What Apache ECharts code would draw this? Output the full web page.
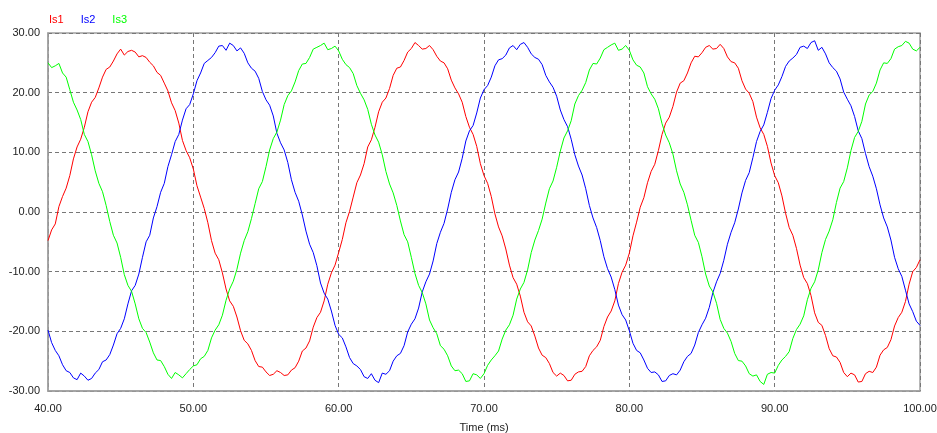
<!DOCTYPE html>
<html>
<head>
<meta charset="utf-8">
<script src="https://cdn.jsdelivr.net/npm/echarts@6/dist/echarts.min.js"></script>
<style>
html,body{margin:0;padding:0;background:#fff;}
#chart{width:937px;height:433px;}
</style>
</head>
<body>
<div id="chart"></div>
<script>
// sample times: 40.0 ms to 100.0 ms every 0.25 ms
const tStart = 40, tStep = 0.25;
const seriesNames = ['Is1', 'Is2', 'Is3'];
const xTicks = [40, 50, 60, 70, 80, 90, 100];
const yTicks = [-30, -20, -10, 0, 10, 20, 30];

const is1 = [
 -4.8,-3.0,-2.0,0.9,2.6,4.0,6.1,8.9,10.9,12.2,14.2,16.8,18.4,19.2,20.8,22.6,23.9,24.3,25.3,26.5,
 27.3,26.3,26.9,27.1,26.8,26.0,26.2,25.9,25.1,24.5,23.4,22.9,21.6,20.3,18.3,17.0,14.9,12.0,10.3,9.1,
 7.2,4.4,2.5,0.6,-1.8,-4.8,-6.9,-8.0,-10.2,-12.9,-14.9,-15.8,-17.6,-19.9,-21.5,-22.1,-23.2,-24.9,-25.9,-26.0,
 -26.8,-27.4,-27.2,-26.6,-26.9,-27.4,-27.3,-26.5,-26.1,-25.0,-23.3,-22.8,-21.6,-19.3,-17.7,-16.8,-14.9,-12.1,-10.2,-8.9,
 -6.8,-4.6,-1.8,0.1,2.5,4.9,6.2,8.1,10.9,12.1,14.2,16.8,18.4,19.1,20.7,22.9,24.1,24.3,25.4,26.8,
 27.4,28.4,27.9,27.3,27.4,27.9,27.2,26.1,25.3,25.0,24.0,22.1,20.8,19.8,18.4,16.0,14.2,13.0,11.0,8.1,
 6.1,4.8,2.6,-0.3,-2.5,-4.0,-6.2,-8.9,-11.0,-12.1,-14.1,-16.8,-18.4,-19.1,-20.8,-22.8,-24.0,-24.4,-25.4,-26.9,
 -27.5,-27.0,-27.4,-28.3,-28.2,-27.2,-26.8,-26.7,-25.9,-24.1,-23.2,-22.6,-21.5,-19.2,-17.6,-16.6,-14.9,-12.0,-10.1,-8.9,
 -6.9,-4.0,-1.7,0.8,2.4,4.9,6.8,8.0,10.3,13.0,14.9,15.9,17.7,20.1,21.6,22.0,23.3,25.0,26.1,26.0,
 26.7,27.6,27.9,27.3,27.4,28.1,27.4,26.0,25.2,25.0,24.1,22.0,20.6,19.9,18.5,15.9,14.1,13.0,11.0,8.2,
 6.1,4.9,2.7,-0.2,-2.6,-3.9,-6.1,-8.9,-11.0,-12.0,-14.0,-16.9,-18.5,-19.0,-20.7,-22.9,-24.1,-24.3,-25.2,-26.9,
 -27.6,-27.0,-27.3,-28.5,-28.4,-27.1,-26.7,-26.9,-26.0,-24.0,-23.1,-22.7,-21.4,-19.1,-17.7,-16.8,-15.0,-12.1,-10.0,-9.3,
 -8.0
];
const is2 = [
 -19.8,-21.9,-23.2,-24.1,-25.6,-26.6,-26.9,-27.8,-28.1,-27.0,-27.5,-28.2,-27.9,-27.0,-26.4,-25.1,-24.8,-23.9,-22.3,-20.4,
 -19.5,-17.9,-15.4,-13.2,-12.3,-10.4,-7.6,-5.0,-3.9,-1.0,0.9,3.3,4.8,7.6,9.6,11.8,13.0,15.4,17.3,18.0,
 19.8,22.0,23.3,24.9,25.4,25.9,26.7,27.8,27.9,27.1,28.3,27.9,27.0,27.5,26.6,25.0,24.1,23.6,22.4,20.2,
 18.8,17.9,16.1,13.2,11.6,10.4,8.3,5.4,3.3,1.8,-0.5,-3.2,-5.4,-6.8,-9.0,-11.9,-13.6,-14.6,-16.6,-19.0,
 -20.5,-21.1,-22.6,-24.4,-25.4,-25.8,-26.4,-27.6,-27.9,-27.1,-28.2,-28.6,-27.0,-27.2,-26.6,-25.0,-24.1,-23.7,-22.4,-20.1,
 -18.8,-17.9,-16.1,-13.4,-11.7,-10.4,-8.2,-5.3,-3.4,-1.9,0.5,3.3,5.4,6.7,9.0,11.9,13.6,14.5,16.6,19.1,
 20.5,21.2,22.6,24.5,25.5,25.7,26.3,27.5,27.9,27.2,28.1,28.4,27.6,26.5,25.9,25.6,24.7,22.9,21.8,20.9,
 19.4,17.1,15.5,14.3,12.2,9.6,7.7,6.2,3.9,1.1,-1.0,-2.6,-4.8,-7.5,-9.5,-10.9,-13.0,-15.6,-17.2,-18.1,
 -19.9,-22.0,-23.2,-23.6,-24.8,-26.2,-26.9,-26.8,-27.3,-28.4,-28.3,-27.4,-27.1,-27.3,-26.5,-25.1,-24.2,-23.7,-22.3,-20.2,
 -18.9,-17.8,-16.0,-13.5,-11.7,-10.3,-8.1,-5.4,-3.4,-1.8,0.5,3.2,5.3,6.6,9.1,11.8,13.5,14.6,16.7,19.0,
 20.4,21.3,22.7,24.4,25.3,25.8,26.4,27.6,27.8,27.4,28.4,28.7,27.1,27.6,26.5,25.0,24.2,23.6,22.3,20.1,
 18.9,17.8,16.0,13.6,12.3,9.8,7.6,6.0,3.9,1.2,-1.0,-2.5,-4.7,-7.6,-9.5,-10.8,-13.1,-15.4,-16.7,-18.3,
 -19.0
];
const is3 = [
 25.0,24.2,24.5,24.9,23.3,22.6,20.5,18.4,17.1,15.5,13.0,11.8,9.6,6.9,4.8,3.4,1.1,-1.6,-3.9,-5.2,
 -7.6,-10.5,-12.3,-13.3,-15.4,-17.9,-19.5,-20.2,-21.8,-23.6,-24.8,-24.9,-25.9,-27.2,-27.9,-26.9,-27.3,-27.8,-27.1,-26.4,
 -25.8,-25.6,-24.6,-24.2,-23.2,-21.1,-19.8,-18.9,-17.3,-14.8,-12.9,-11.6,-9.6,-6.9,-4.8,-3.3,-1.1,1.4,3.9,5.1,
 7.6,10.4,12.3,13.4,15.4,18.0,19.5,20.3,21.8,23.7,24.8,24.9,25.9,27.3,27.6,27.9,28.3,27.2,27.4,27.8,
 27.0,25.6,24.7,24.2,23.2,21.2,19.9,18.8,17.2,14.7,12.9,11.7,9.6,6.8,4.7,3.2,1.1,-1.5,-3.8,-5.0,
 -7.6,-10.3,-12.3,-13.5,-15.4,-18.1,-19.4,-20.4,-22.4,-23.0,-24.1,-25.8,-26.6,-26.5,-27.1,-28.4,-28.3,-27.1,-27.3,-27.9,
 -27.1,-25.7,-24.8,-24.1,-23.3,-21.3,-19.8,-18.9,-17.3,-14.6,-12.9,-11.8,-9.7,-6.8,-4.7,-3.1,-1.2,1.5,3.9,5.2,
 7.5,10.2,12.4,13.6,15.3,18.1,19.5,20.4,21.7,23.8,24.9,24.8,25.8,27.2,27.6,28.0,28.3,27.1,27.3,27.9,
 27.1,25.5,24.6,24.3,23.3,21.0,19.8,18.9,17.3,14.8,12.9,11.6,9.7,6.9,4.7,3.3,1.2,-1.4,-3.9,-5.1,
 -7.5,-10.4,-12.4,-13.4,-15.3,-18.0,-19.5,-20.3,-21.7,-23.7,-24.9,-25.0,-25.8,-27.1,-27.5,-27.3,-28.4,-28.9,-27.2,-26.9,
 -27.0,-25.7,-24.8,-24.2,-23.4,-21.2,-19.7,-18.8,-17.4,-14.7,-12.8,-11.7,-9.7,-6.8,-4.6,-3.2,-1.3,1.6,4.0,5.1,
 7.4,10.3,12.5,13.5,15.2,18.1,19.6,20.2,21.6,23.8,25.0,24.9,25.7,27.3,27.7,27.9,28.6,28.3,27.3,27.0,
 27.6
];
const colors = ['#ff0000', '#0000ff', '#00ff00'];

function pairs(vals) {
  return vals.map((v, i) => [tStart + i * tStep, v]);
}

const chart = echarts.init(document.getElementById('chart'), null, {renderer: 'canvas'});
const font = 'Liberation Sans, Arial, sans-serif';
chart.setOption({
  animation: false,
  backgroundColor: '#ffffff',
  legend: {
    left: 39, top: 9,
    icon: 'rect', itemWidth: 0, itemHeight: 0, itemGap: 12,
    selectedMode: false,
    data: seriesNames.map((n, i) => ({name: n, textStyle: {color: colors[i]}})),
    textStyle: {fontFamily: font, fontSize: 11, padding: 0}
  },
  grid: {
    left: 48, right: 17, top: 33, bottom: 42,
    containLabel: false, outerBoundsMode: 'none',
    show: true, borderColor: '#a0a0a0', borderWidth: 1.5, backgroundColor: '#fff'
  },
  xAxis: {
    type: 'value', min: xTicks[0], max: xTicks[xTicks.length - 1], interval: 10,
    name: 'Time (ms)', nameLocation: 'middle', nameGap: 31,
    nameTextStyle: {fontFamily: font, fontSize: 11, color: '#222'},
    axisLine: {show: true, onZero: false, lineStyle: {color: '#a0a0a0', width: 1.5}},
    axisTick: {show: false},
    axisLabel: {fontFamily: font, fontSize: 11, color: '#222', margin: 12,
      formatter: v => v.toFixed(2)},
    splitLine: {show: true, lineStyle: {color: '#777', type: [4, 3], width: 1}}
  },
  yAxis: {
    type: 'value', min: yTicks[0], max: yTicks[yTicks.length - 1], interval: 10,
    axisLine: {show: true, onZero: false, lineStyle: {color: '#a0a0a0', width: 1.5}},
    axisTick: {show: false},
    axisLabel: {fontFamily: font, fontSize: 11, color: '#222', margin: 8,
      formatter: v => v.toFixed(2)},
    splitLine: {show: true, lineStyle: {color: '#777', type: [4, 3], width: 1}}
  },
  series: [is1, is2, is3].map((d, i) => ({
    name: seriesNames[i], type: 'line', data: pairs(d),
    showSymbol: false, symbol: 'none',
    lineStyle: {color: colors[i], width: 1},
    itemStyle: {color: colors[i]},
    z: 3
  }))
});
</script>
</body>
</html>
